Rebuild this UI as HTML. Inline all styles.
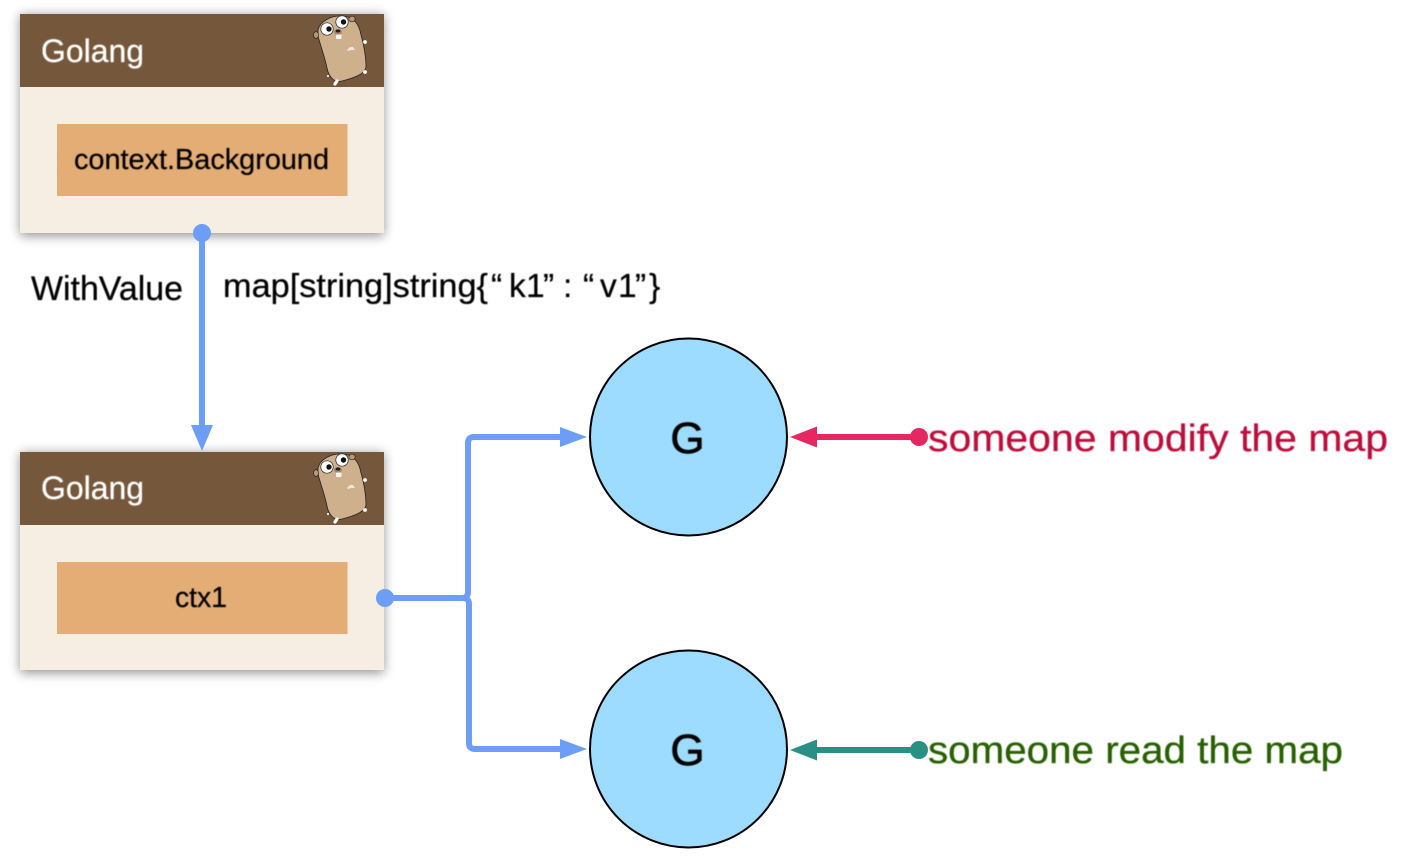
<!DOCTYPE html>
<html>
<head>
<meta charset="utf-8">
<style>
html,body{margin:0;padding:0;background:#fff;width:1408px;height:858px;overflow:hidden}
svg{display:block;font-family:"Liberation Sans",sans-serif}
</style>
</head>
<body>
<svg width="1408" height="858" viewBox="0 0 1408 858" xmlns="http://www.w3.org/2000/svg">
<defs>
<filter id="sh" x="-15%" y="-15%" width="130%" height="130%">
<feGaussianBlur stdDeviation="5.5"/>
</filter>
<filter id="soft" x="-5%" y="-5%" width="110%" height="110%">
<feGaussianBlur stdDeviation="0.4"/>
</filter>
<g id="gopher">
<path d="M-22,-20 C-20,-29 -8,-35 3,-34 C13,-33 19,-27 21,-15 C24,-5 26,8 26,17 C25,24 14,28 2,31 C-5,33 -11,28 -13,18 C-15,8 -20,-6 -22,-14 Z" fill="#cfb08c" stroke="#222" stroke-width="0.8"/>
<ellipse cx="-24" cy="-15" rx="2.4" ry="3.4" fill="#b99a78" stroke="#222" stroke-width="0.7"/>
<ellipse cx="12" cy="-31" rx="3.2" ry="2.8" fill="#b99a78" stroke="#222" stroke-width="0.7"/>
<circle cx="-13" cy="-21" r="6.2" fill="#fff" stroke="#222" stroke-width="0.7"/>
<circle cx="2" cy="-28" r="6.2" fill="#fff" stroke="#222" stroke-width="0.7"/>
<circle cx="-11" cy="-21" r="2.7" fill="#111"/>
<circle cx="3.500" cy="-28" r="2.7" fill="#111"/>
<ellipse cx="-2" cy="-18" rx="4" ry="3" fill="#a5886a"/>
<ellipse cx="-2" cy="-19" rx="2.4" ry="1.5" fill="#222"/>
<rect x="-4" y="-15.500" width="5.500" height="4.500" rx="1" fill="#f4f4f0"/>
<path d="M7,0 l3,-3 l3,0 l2,3 l-4,0 l-3,1 Z" fill="#eee8dc"/>
<circle cx="25" cy="-8" r="1.9" fill="#fff"/>
<circle cx="25" cy="22" r="1.9" fill="#fff"/>
<path d="M-3,31 l-2,3" stroke="#fff" stroke-width="3.200" stroke-linecap="round"/>
<circle cx="-12" cy="26" r="1.1" fill="#eee"/>
</g>
</defs>

<rect width="1408" height="858" fill="#fff"/>

<!-- card 1 -->
<rect x="20" y="15" width="364" height="221" fill="#000" opacity="0.42" filter="url(#sh)"/>
<rect x="20" y="14" width="364" height="219" fill="#f6eee2"/>
<rect x="20" y="14" width="364" height="73" fill="#75573b"/>
<use href="#gopher" x="340" y="50"/>
<text x="41" y="62" font-size="32" fill="#fff" stroke="#fff" stroke-width="0.25" textLength="103" lengthAdjust="spacingAndGlyphs" filter="url(#soft)">Golang</text>
<rect x="57" y="124" width="290.500" height="72" fill="#e4ad75"/>
<text x="74" y="169" font-size="29" fill="#000" stroke="#000" stroke-width="0.25" textLength="255" lengthAdjust="spacingAndGlyphs" filter="url(#soft)">context.Background</text>

<!-- card 2 -->
<rect x="20" y="453" width="364" height="220" fill="#000" opacity="0.42" filter="url(#sh)"/>
<rect x="20" y="452" width="364" height="218" fill="#f6eee2"/>
<rect x="20" y="452" width="364" height="73" fill="#75573b"/>
<use href="#gopher" x="340" y="488"/>
<text x="41" y="499" font-size="32" fill="#fff" stroke="#fff" stroke-width="0.25" textLength="103" lengthAdjust="spacingAndGlyphs" filter="url(#soft)">Golang</text>
<rect x="57" y="562" width="290.500" height="72" fill="#e4ad75"/>
<text x="175" y="607" font-size="29" fill="#000" stroke="#000" stroke-width="0.25" textLength="52" lengthAdjust="spacingAndGlyphs" filter="url(#soft)">ctx1</text>

<!-- vertical connector -->
<circle cx="202" cy="233" r="9" fill="#6c9ef8"/>
<path d="M202,233 V428" stroke="#6c9ef8" stroke-width="6" fill="none"/>
<path d="M191,425 L213,425 L202,451 Z" fill="#6c9ef8"/>

<!-- labels -->
<text x="31" y="300" font-size="34" fill="#000" stroke="#000" stroke-width="0.25" textLength="152" lengthAdjust="spacingAndGlyphs" filter="url(#soft)">WithValue</text>
<text x="223" y="297" font-size="33.500" fill="#000" stroke="#000" stroke-width="0.25" textLength="265" lengthAdjust="spacingAndGlyphs" filter="url(#soft)">map[string]string{</text>
<text y="297" font-size="33.500" fill="#000" stroke="#000" stroke-width="0.25" x="491 509 526 543 563" filter="url(#soft)">“k1”:</text>
<text y="297" font-size="33.500" fill="#000" stroke="#000" stroke-width="0.25" x="583 600 618 635 649" filter="url(#soft)">“v1”}</text>

<!-- branch connector -->
<circle cx="385" cy="598" r="9" fill="#6c9ef8"/>
<path d="M385,598 H462 Q468,598 468,592 V443 Q468,437 474,437 H565" stroke="#6c9ef8" stroke-width="6" fill="none"/>
<path d="M385,598 H463 Q469,598 469,604 V743 Q469,749 475,749 H565" stroke="#6c9ef8" stroke-width="6" fill="none"/>
<path d="M560,427 L587,437 L560,447 Z" fill="#6c9ef8"/>
<path d="M560,739 L587,749 L560,759 Z" fill="#6c9ef8"/>

<!-- circles -->
<circle cx="688.500" cy="437" r="98.500" fill="#9ddcff" stroke="#000" stroke-width="2"/>
<circle cx="688.500" cy="749" r="98.500" fill="#9ddcff" stroke="#000" stroke-width="2"/>
<text x="687.500" y="453" font-size="44" fill="#000" stroke="#000" stroke-width="0.7" text-anchor="middle" filter="url(#soft)">G</text>
<text x="687.500" y="765" font-size="44" fill="#000" stroke="#000" stroke-width="0.7" text-anchor="middle" filter="url(#soft)">G</text>

<!-- right arrows -->
<circle cx="919" cy="437" r="9" fill="#e72762"/>
<path d="M919,437 H812" stroke="#e72762" stroke-width="6" fill="none"/>
<path d="M817,426.500 L790,437 L817,447.500 Z" fill="#e72762"/>
<circle cx="919" cy="750" r="9" fill="#2a8f84"/>
<path d="M919,750 H812" stroke="#2a8f84" stroke-width="6" fill="none"/>
<path d="M817,739.500 L790,750 L817,760.500 Z" fill="#2a8f84"/>

<text x="928" y="451" font-size="38" fill="#bd0c3b" stroke="#bd0c3b" stroke-width="0.3" textLength="460" lengthAdjust="spacingAndGlyphs" filter="url(#soft)">someone modify the map</text>
<text x="928" y="763" font-size="38" fill="#266004" stroke="#266004" stroke-width="0.3" textLength="415" lengthAdjust="spacingAndGlyphs" filter="url(#soft)">someone read the map</text>
</svg>
</body>
</html>
